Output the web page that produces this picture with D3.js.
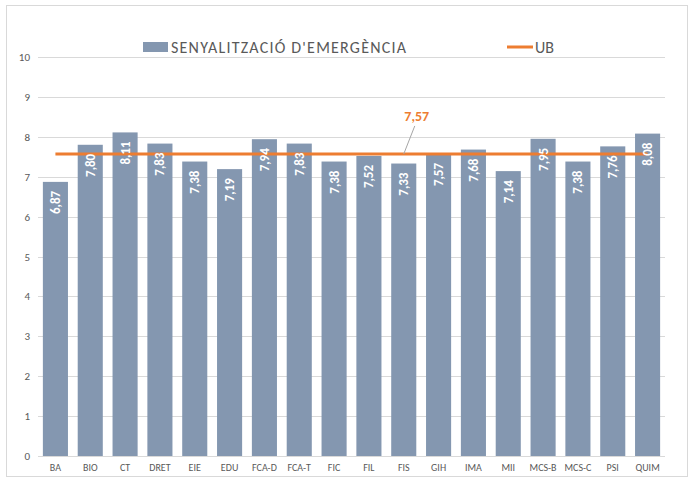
<!DOCTYPE html>
<html>
<head>
<meta charset="utf-8">
<script src="https://cdn.jsdelivr.net/npm/d3@7"></script>
<style>
  body { margin: 0; background: #fff; }
  text { font-family: Calibri, Carlito, "Open Sans", sans-serif; }
</style>
</head>
<body>
<div id="scene"></div>
<script>
var categories = ["BA","BIO","CT","DRET","EIE","EDU","FCA-D","FCA-T","FIC","FIL","FIS","GIH","IMA","MII","MCS-B","MCS-C","PSI","QUIM"];
var values = [6.87,7.80,8.11,7.83,7.38,7.19,7.94,7.83,7.38,7.52,7.33,7.57,7.68,7.14,7.95,7.38,7.76,8.08];
var ubValue = 7.57;
var yTicks = [0,1,2,3,4,5,6,7,8,9,10];
var seriesName = "SENYALITZACIÓ D'EMERGÈNCIA";
var ubName = "UB";

var ctx = {
  w: 696,
  h: 481,
  left: 38,
  right: 665,
  top: 57,
  bottom: 456,
  barColor: "#8497b0",
  ubColor: "#ed7d31",
  textColor: "#595959"
};

var fmt = function(v) { return v.toFixed(2).replace(".", ","); };

var svg = d3.select("#scene").append("svg")
  .attr("width", ctx.w)
  .attr("height", ctx.h);

// chart border
svg.append("rect")
  .attr("x", 6.5).attr("y", 5.5)
  .attr("width", 681).attr("height", 471)
  .attr("fill", "#fff")
  .attr("stroke", "#d9d9d9");

var x = d3.scaleBand().domain(categories).range([ctx.left, ctx.right]).paddingInner(0.28).paddingOuter(0.14);
var y = d3.scaleLinear().domain([0, 10]).range([ctx.bottom, ctx.top]);

// gridlines
svg.append("g").selectAll("line")
  .data(yTicks)
  .enter().append("line")
  .attr("x1", ctx.left).attr("x2", ctx.right)
  .attr("y1", function(d) { return Math.round(y(d)) + 0.5; })
  .attr("y2", function(d) { return Math.round(y(d)) + 0.5; })
  .attr("stroke", "#d9d9d9");

// y axis labels
var yAxis = d3.axisLeft(y).tickValues(yTicks).tickSize(0).tickPadding(8);
svg.append("g")
  .attr("transform", "translate(" + ctx.left + ",0)")
  .call(yAxis)
  .call(function(g) {
    g.select(".domain").remove();
    g.selectAll("text").attr("fill", ctx.textColor).attr("font-size", 11);
  });

// x axis labels
var xAxis = d3.axisBottom(x).tickSize(0).tickPadding(8);
svg.append("g")
  .attr("transform", "translate(0," + ctx.bottom + ")")
  .call(xAxis)
  .call(function(g) {
    g.select(".domain").remove();
    g.selectAll("text").attr("fill", ctx.textColor).attr("font-size", 10);
  });

// bars
svg.append("g").selectAll("rect")
  .data(values)
  .enter().append("rect")
  .attr("x", function(d, i) { return x(categories[i]); })
  .attr("y", function(d) { return y(d); })
  .attr("width", x.bandwidth())
  .attr("height", function(d) { return y(0) - y(d); })
  .attr("fill", ctx.barColor);

// UB line
var ubLine = d3.line()
  .x(function(d) { return x(d) + x.bandwidth() / 2; })
  .y(function() { return y(ubValue); });
svg.append("path")
  .datum([categories[0], categories[categories.length - 1]])
  .attr("d", ubLine)
  .attr("stroke", ctx.ubColor)
  .attr("stroke-width", 3)
  .attr("fill", "none");

// bar value labels
svg.append("g").selectAll("text")
  .data(values)
  .enter().append("text")
  .attr("transform", function(d, i) {
    return "translate(" + (x(categories[i]) + x.bandwidth() / 2 + 4.5) + "," + (y(d) + 9) + ") rotate(-90)";
  })
  .attr("text-anchor", "end")
  .attr("fill", "#fff")
  .attr("font-weight", "bold")
  .attr("font-size", 13)
  .text(function(d) { return fmt(d); });

// UB callout
var calloutX = x("FIS") + x.bandwidth() / 2;
svg.append("line")
  .attr("x1", calloutX).attr("y1", y(ubValue))
  .attr("x2", calloutX + 11).attr("y2", y(ubValue) - 28)
  .attr("stroke", "#a6a6a6");
svg.append("text")
  .attr("x", calloutX + 13).attr("y", y(ubValue) - 33)
  .attr("text-anchor", "middle")
  .attr("fill", ctx.ubColor)
  .attr("font-weight", "bold")
  .attr("font-size", 14)
  .text(fmt(ubValue));

// legend
var legend = svg.append("g");
legend.append("rect")
  .attr("x", 143).attr("y", 42)
  .attr("width", 25).attr("height", 10)
  .attr("fill", ctx.barColor);
legend.append("text")
  .attr("x", 171).attr("y", 53)
  .attr("fill", ctx.textColor)
  .attr("font-size", 16)
  .attr("textLength", 235)
  .attr("lengthAdjust", "spacing")
  .text(seriesName);
legend.append("line")
  .attr("x1", 507).attr("x2", 533)
  .attr("y1", 47).attr("y2", 47)
  .attr("stroke", ctx.ubColor)
  .attr("stroke-width", 3);
legend.append("text")
  .attr("x", 535).attr("y", 53)
  .attr("fill", ctx.textColor)
  .attr("font-size", 16)
  .text(ubName);
</script>
</body>
</html>
